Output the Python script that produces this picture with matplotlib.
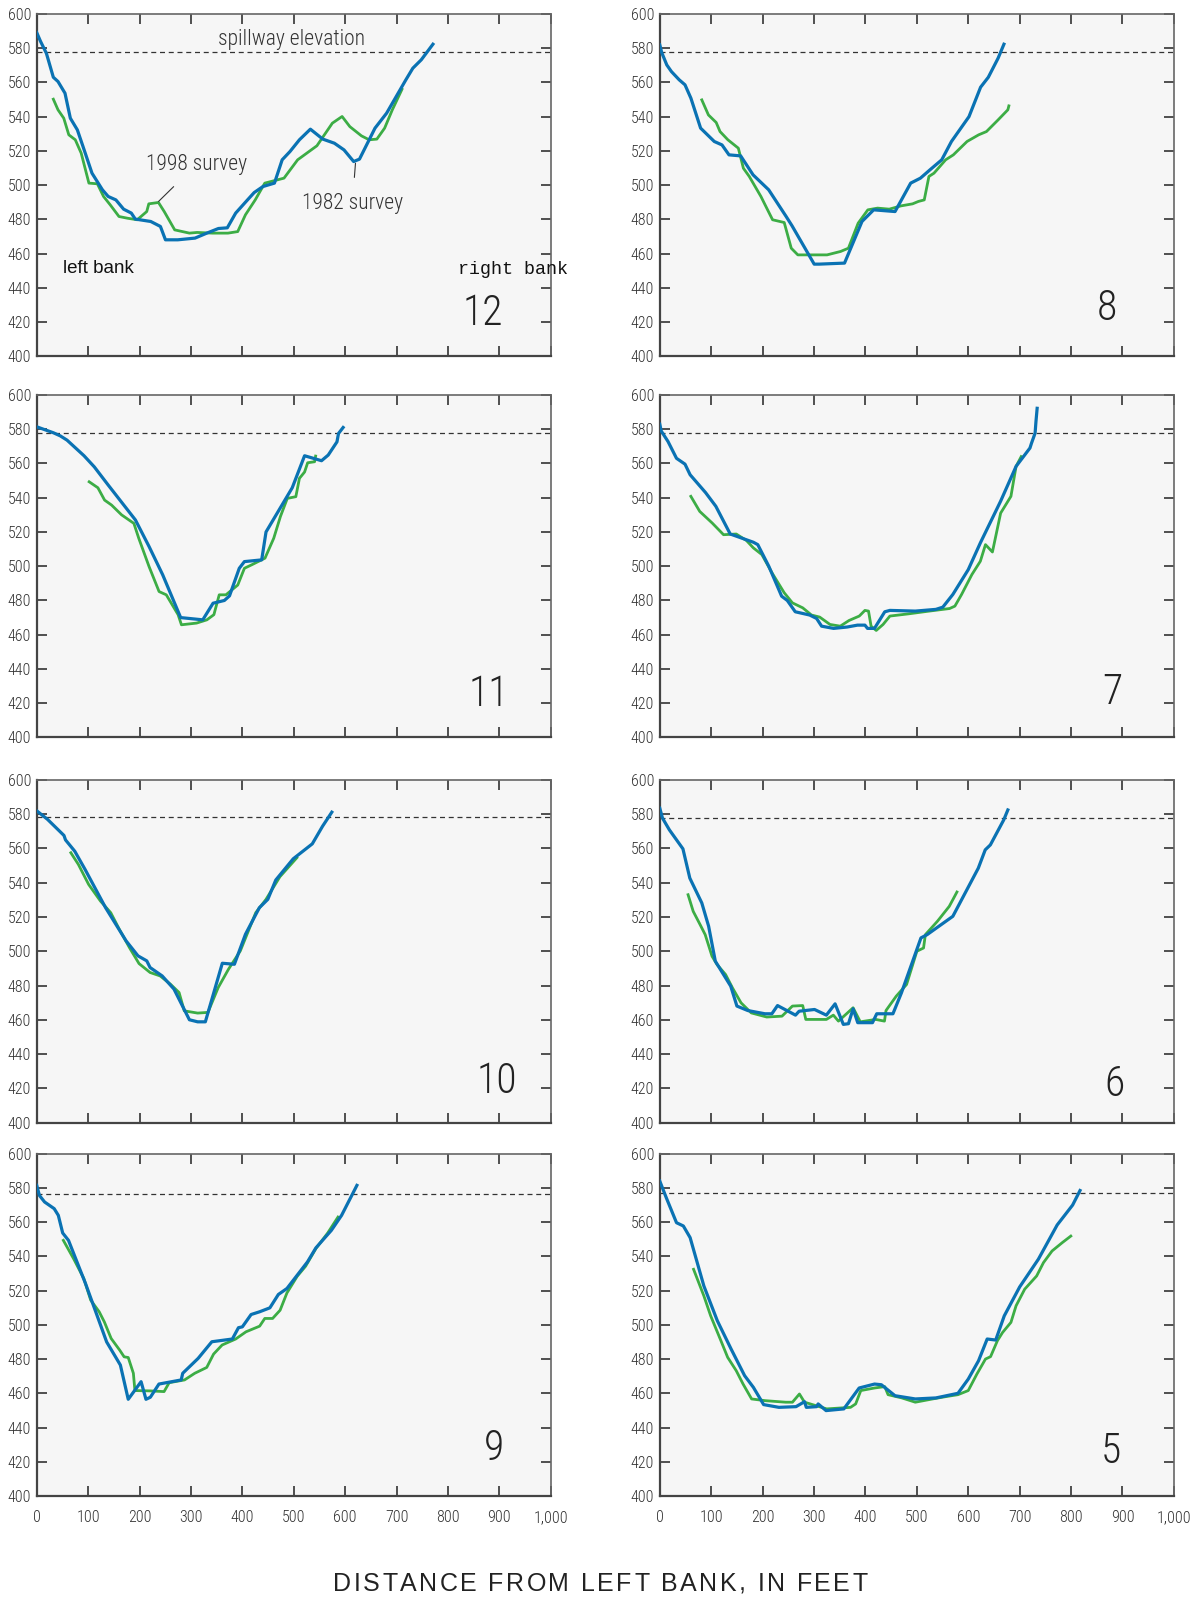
import numpy as np
import matplotlib
matplotlib.use("Agg")
import matplotlib.pyplot as plt
from matplotlib import font_manager
from matplotlib.ft2font import FT2Font

# Cross sections: distance from left bank (ft) and elevation (ft)
# 1982 survey = blue, 1998 survey = green

# section 12
x82_12 = [0, 7.5, 18.8, 32.3, 41.4, 55, 65.4, 79, 90, 107.5, 127.8, 139, 154, 169, 184, 191.7, 221.8,
          240.6, 250.4, 274.4, 308, 330.8, 353.4, 370.7, 387, 410, 423, 440, 462.4, 477.4, 492.5, 511,
          532.3, 556.4, 579, 597.7, 616.5, 627.8, 658, 680.5, 703, 718, 731.6, 748, 770.7]
y82_12 = [589.1, 583.9, 577, 563, 560.5, 553.7, 539.1, 532.3, 522.6, 507, 497.3, 493.4, 491.4, 486, 483.7,
          480.2, 478.8, 475.9, 468.1, 468.1, 469.1, 472, 474.7, 475.1, 483.7, 491.4, 495.7, 499.2, 501.2,
          514.8, 519.6, 526.5, 532.7, 526.9, 524.5, 520.6, 513.8, 515.2, 533.3, 542, 553.7, 561.5, 568.3,
          573.2, 582.3]
x98_12 = [32.3, 41.4, 52.6, 62.4, 75, 86.5, 101.5, 118, 130, 143, 160, 176.7, 195.5, 214, 218, 236.8, 248,
          268.4, 297, 312, 342, 372, 391, 406, 425, 443.6, 481, 507.5, 545, 575, 594, 609, 631.6, 646.6,
          661.6, 676.7, 691.7, 710.5]
y98_12 = [550.2, 544, 539.1, 529.4, 526.5, 518.7, 501.2, 500.8, 493.4, 488.5, 481.7, 480.7, 479.8, 484.6,
          489.1, 489.9, 484.6, 473.9, 472, 472.4, 472, 472, 472.9, 482.7, 491.4, 501.2, 504.1, 514.8, 523,
          536.2, 540.1, 534.2, 528.8, 526.5, 526.9, 533.3, 544, 556]

# section 8
x82_8 = [0, 3.8, 13.6, 22.7, 37.8, 49, 60.5, 79.4, 106, 121, 134.6, 157.3, 181.5, 211.8, 245.8, 257.2,
         300.3, 310, 359.3, 393.3, 416, 457.6, 488, 507, 525.7, 548.4, 567.3, 601.4, 624, 639, 658, 669.4]
y82_8 = [581.9, 577.4, 570.2, 566.3, 561.5, 558.6, 550.8, 533.3, 525.5, 523.5, 517.7, 517.1, 506, 497.3,
         481.7, 476.3, 453.9, 453.9, 454.5, 478.8, 485.6, 484.6, 501.2, 504.1, 509, 514.8, 525.5, 540,
         557.2, 563, 574.1, 582.3]
x98_8 = [81.7, 94.6, 109.7, 117.2, 132.4, 152.8, 162.6, 174, 196.7, 208, 219.4, 242, 255.7, 268.5, 295,
         325.3, 351.7, 366.9, 385.8, 404.7, 423.6, 446.3, 469, 491.7, 503, 514.4, 523.5, 533.3, 556, 571,
         597.6, 620.3, 635.4, 658, 677, 679]
y98_8 = [549.8, 541, 536.6, 531.3, 526.5, 521.6, 509.9, 505.1, 493.4, 486.6, 479.8, 478.2, 463.2, 459.3,
         459.3, 459.3, 461.3, 463.2, 477.8, 485.6, 486.6, 486, 487.9, 489.1, 490.5, 491.4, 505.1, 507,
         514.8, 517.7, 525.5, 529.4, 531.3, 538.1, 544, 546.3]

# section 11
x82_11 = [0, 32.5, 45.8, 59, 92, 112, 139, 192, 218.5, 245, 280, 323, 343, 365, 375, 394, 404, 437.6, 446,
          497, 521, 554, 567, 584, 587, 596]
y82_11 = [581.4, 577.9, 576.1, 573.6, 564.5, 558, 547.4, 527, 511.5, 495, 470, 468.7, 478.4, 480, 482.7,
          498.8, 502.7, 503.7, 520, 545.8, 564.5, 561.6, 564.9, 572.6, 577.5, 581]
x98_11 = [102, 119, 132, 145.6, 165, 189, 198.5, 218.5, 238, 252, 275, 281.5, 311, 331, 344.6, 355, 368,
          391, 404, 418, 444, 461, 474, 487.4, 504, 511, 521, 527, 540.5, 542.5]
y98_11 = [549.3, 545.8, 538.6, 535.7, 530, 525, 516.3, 499.8, 485.2, 483.3, 471.7, 465.8, 466.8, 468.7,
          471.7, 483.3, 483.3, 489, 498.8, 500.8, 504.7, 516.3, 529, 539.6, 540.6, 551.3, 555, 560.4, 561,
          564.3]

# section 7
x82_7 = [0, 2.7, 16, 32.5, 49, 59, 89, 109, 137, 182, 190.6, 212, 237, 248, 263.5, 291.5, 305, 314.7, 338,
         364.5, 384.5, 399, 404, 417.6, 437.6, 447.6, 497, 537, 550.5, 570, 600, 623.5, 663, 693, 720, 723,
         730, 731.7, 734]
y82_7 = [582.9, 579, 572.8, 563, 559.6, 553.4, 543, 535, 518.8, 514, 512.6, 500, 482.5, 480, 473.4, 471.5,
         469.5, 465, 463.7, 464.5, 465.6, 465.6, 463.7, 463.7, 473.4, 474.2, 473.8, 474.8, 476.1, 483.5,
         498, 513.6, 538, 558.3, 569, 571.8, 577.7, 584.5, 592.2]
x98_7 = [60.4, 77.7, 102, 124, 148.7, 168.6, 182, 198.5, 218.5, 242, 258, 278, 295, 311, 331, 351, 368,
         388, 399, 406, 411, 421, 434.3, 447.6, 484, 524, 563.7, 574, 587, 607, 623.5, 633.5, 647, 663, 683,
         693, 703]
y98_7 = [540.8, 532, 525.2, 518.4, 518.8, 515, 510.7, 506.8, 496, 484.5, 478.6, 475.7, 471.5, 470.3, 466,
         465, 468.3, 470.9, 474.2, 473.8, 465, 462.5, 466, 470.9, 472.2, 473.8, 475.3, 476.7, 483.5, 495.1,
         502.9, 512.6, 508.3, 531, 540.8, 558.3, 564]

# section 10
x82_10 = [0, 21, 53, 56, 74, 94, 134, 174, 197, 214, 220.5, 244, 267, 297, 313, 328, 361, 384.5, 406, 433,
          449.5, 465, 499, 536, 556, 574]
y82_10 = [582, 577, 567.6, 565, 558.4, 547.8, 525.4, 506, 497.3, 494.4, 490.5, 485.6, 477.9, 460, 458.8,
          458.8, 493, 492.4, 509.9, 525.4, 530.3, 541.6, 554, 562.7, 573, 581.2]
x98_10 = [66.4, 81, 101, 124, 144, 160.7, 180.6, 199, 220.5, 240, 260, 276.9, 287, 313, 333, 353, 373, 396,
          426, 446, 473, 506]
y98_10 = [557.5, 550.7, 539, 529.3, 522.5, 512.8, 502, 492.8, 487.6, 485.6, 480.8, 475.9, 465.2, 463.9,
          464.3, 478.8, 489.5, 500.2, 522.5, 530.3, 543.5, 554.6]

# section 6
x82_6 = [0, 5.3, 18.6, 45, 58.4, 81.7, 95, 108, 138, 150, 171, 204.5, 218, 229, 264, 271, 301, 324, 341,
         357, 367, 376, 385, 413.7, 422, 453.5, 470, 508, 520, 570, 619.5, 633, 643, 669, 677]
y82_6 = [583.5, 577.7, 570.9, 559.8, 542.7, 528.2, 514.6, 494.2, 479.6, 468, 465.4, 463.5, 463.5, 468.3,
         462.7, 465, 466, 462.7, 469.3, 457.3, 457.7, 466.4, 458.3, 458.3, 463.5, 463.5, 475.7, 507.8,
         509.7, 520.4, 548.5, 559.2, 562.1, 576.7, 582.5]
x98_6 = [55, 65, 78.5, 88.3, 101.6, 111.5, 128, 141.4, 158, 178, 208, 237.7, 258, 278, 284, 304, 324,
         337.6, 347.5, 376, 390, 420, 437, 440, 460, 480, 490, 500, 513, 516.6, 540, 563, 570, 578]
y98_6 = [533, 523.3, 515.5, 509.7, 497.1, 492.2, 486.4, 478.6, 469.9, 464, 461.6, 462.1, 468, 468.3,
         460.2, 460.2, 460.2, 462.7, 459.2, 467, 458.8, 460.2, 459.2, 465.4, 473.8, 480.6, 490.3, 500,
         501.9, 509.7, 517.5, 526.2, 530.1, 534.6]

# section 9
x82_9 = [0, 5.3, 15.3, 34, 42, 50.5, 61.8, 95, 136, 162.7, 178, 203, 212.5, 221, 237.7, 281, 284, 314,
         340.6, 380.5, 392.4, 400, 417, 433.6, 453.5, 470, 486.7, 526.6, 543, 573, 593, 622.8]
y82_9 = [581.4, 575.5, 571.7, 567.8, 563.9, 553.6, 549.3, 524, 490, 476.5, 456.5, 466.8, 456.5, 457.7,
         465.4, 467.8, 471.7, 480.4, 490.1, 491.7, 498.3, 498.8, 506, 507.6, 509.9, 517.7, 521.2, 536.7,
         544.9, 555.1, 563.9, 581.4]
x98_9 = [51.8, 71.7, 91.6, 105, 121.5, 131.5, 144.8, 161.4, 170, 178, 188, 191, 221, 247.7, 257.6, 287.5,
         307.4, 330.7, 344, 360.6, 387, 407, 433.6, 443.6, 458.8, 473.4, 486.7, 506.6, 523, 543, 566, 586]
y98_9 = [549.3, 538.6, 527, 514.4, 507.6, 501.7, 492, 485.2, 481.3, 480.9, 471.7, 461.6, 461.4, 461,
         466.2, 467.8, 471.7, 475.1, 482.9, 488.2, 491.7, 495.9, 499.2, 503.7, 503.7, 508.5, 518.6, 528.3,
         534.2, 544.5, 553.6, 562.9]

# section 5
x82_5 = [0, 12.6, 32.5, 45.8, 59, 85.7, 112, 138.8, 165, 182, 202, 231.7, 265, 281.5, 285, 305, 308, 323.4,
         358, 387.8, 417.7, 431, 457.5, 497, 537, 580, 600, 620, 636.8, 653.4, 670, 700, 736.4, 773, 803,
         817.4]
y82_5 = [583.9, 574.2, 559.6, 557.7, 550.9, 522.7, 502.3, 485.8, 470.3, 463.5, 453.4, 451.8, 452.2, 455.1,
         451.8, 452.2, 453.8, 449.9, 450.9, 463.1, 465.4, 465, 458.6, 456.7, 457.3, 460, 468.3, 479, 491.7,
         491.1, 505.2, 522.1, 538.3, 558.3, 569.9, 578.4]
x98_5 = [65.7, 85.7, 99, 118.9, 132, 148.7, 162, 178.6, 205, 245, 258, 271.6, 281.5, 324.7, 371, 381, 391,
         417.7, 437.6, 444, 470.8, 497, 530.5, 557, 580, 600, 616.9, 633.5, 643.4, 656.7, 666.7, 683, 693,
         709.8, 733, 746.3, 763, 783, 799.5]
y98_5 = [532.4, 516.9, 505.2, 490.7, 481, 473.2, 465.4, 456.7, 455.7, 454.8, 454.8, 459.6, 454.8, 450.9,
         451.8, 453.8, 461.6, 463.1, 463.9, 459.2, 457.3, 454.8, 456.7, 458.1, 459.2, 461.6, 471.3, 480,
         481.4, 490.7, 495.5, 501.4, 511.1, 520.8, 528.5, 536.3, 543.1, 548, 551.8]

sections = ["12", "8", "11", "7", "10", "6", "9", "5"]
spillway = [578, 577.6, 578, 578, 578.2, 577.7, 576.5, 576.7]
surveys_1982 = [(x82_12, y82_12), (x82_8, y82_8), (x82_11, y82_11), (x82_7, y82_7),
                (x82_10, y82_10), (x82_6, y82_6), (x82_9, y82_9), (x82_5, y82_5)]
surveys_1998 = [(x98_12, y98_12), (x98_8, y98_8), (x98_11, y98_11), (x98_7, y98_7),
                (x98_10, y98_10), (x98_6, y98_6), (x98_9, y98_9), (x98_5, y98_5)]

x_ticks = np.arange(0, 1001, 100)
x_labels = ["0", "100", "200", "300", "400", "500", "600", "700", "800", "900", "1,000"]
y_ticks = np.arange(400, 601, 20)

# where the section number sits in each panel (data coords)
num_x = [868, 870, 879, 880, 895, 884, 889, 878]
num_y = [425, 428, 425, 426, 424, 422, 428, 426]

# fonts
installed = {f.name for f in font_manager.fontManager.ttflist}


def pick(*names):
    for n in names:
        if n in installed:
            return n
    return "DejaVu Sans"


narrow = pick("Roboto Condensed", "Liberation Sans Narrow", "DejaVu Sans")
sans = pick("Liberation Sans", "Arial", "DejaVu Sans")
mono = pick("Liberation Mono", "Courier New", "DejaVu Sans Mono")

BLUE = "#0a72b3"
GREEN = "#3cad45"

fig = plt.figure(figsize=(12.04, 15.97), dpi=100)

lefts = [0.0305, 0.548]
bottoms = [0.7768, 0.5382, 0.2971, 0.0632]
w, h = 0.427, 0.2145

for i, sec in enumerate(sections):
    row, col = divmod(i, 2)
    ax = fig.add_axes([lefts[col], bottoms[row], w, h])
    ax.set_facecolor("#f6f6f6")

    xg, yg = surveys_1998[i]
    xb, yb = surveys_1982[i]
    ax.plot(xg, yg, color=GREEN, lw=2.0, solid_joinstyle="round", zorder=3)
    ax.plot(xb, yb, color=BLUE, lw=2.3, solid_joinstyle="round", zorder=4)
    ax.axhline(spillway[i], color="#333333", lw=0.9, ls=(0, (4, 3)), zorder=2)

    ax.set_xlim(0, 1000)
    ax.set_ylim(400, 600)
    ax.set_xticks(x_ticks)
    ax.set_yticks(y_ticks)
    ax.tick_params(direction="in", top=True, right=True, length=7, width=1.1,
                   colors="#222222", labelsize=11.5, pad=4)
    for lab in ax.get_yticklabels():
        lab.set_fontfamily(narrow)
        lab.set_fontweight("light")
        lab.set_color("#333333")
    if row == 3:
        ax.set_xticklabels(x_labels, fontfamily=narrow, fontsize=11.5,
                           fontweight="light", color="#333333")
        ax.tick_params(axis="x", pad=10)
    else:
        ax.set_xticklabels([])

    for side in ["left", "bottom"]:
        ax.spines[side].set_color("#444444")
        ax.spines[side].set_linewidth(1.6)
    for side in ["top", "right"]:
        ax.spines[side].set_color("#666666")
        ax.spines[side].set_linewidth(1.2)

    ax.text(num_x[i], num_y[i], sec, ha="center", va="center", fontsize=30,
            fontfamily=narrow, fontweight="light", color="#222222")

    if sec == "12":
        ax.text(495, 585, "spillway elevation", ha="center", va="center",
                fontsize=15.5, fontfamily=narrow, fontweight="light", color="#333333")
        ax.annotate("1998 survey", xy=(237, 490.5), xytext=(310, 512),
                    ha="center", va="center", fontsize=15.5, fontfamily=narrow,
                    fontweight="light", color="#333333",
                    arrowprops=dict(arrowstyle="-", color="#333333", lw=0.8,
                                    shrinkA=9, shrinkB=0))
        ax.annotate("1982 survey", xy=(620, 512.8), xytext=(614, 489.5),
                    ha="center", va="center", fontsize=15.5, fontfamily=narrow,
                    fontweight="light", color="#333333",
                    arrowprops=dict(arrowstyle="-", color="#333333", lw=0.8,
                                    shrinkA=9, shrinkB=0))
        ax.text(52, 451.5, "left bank", ha="left", va="center", fontsize=13.5,
                fontfamily=sans, color="#111111")
        ax.text(820, 450.5, "right bank", ha="left", va="center", fontsize=13.2,
                fontfamily=mono, color="#111111", clip_on=False)

# axis title with wide letter spacing, placed one glyph at a time
title = "DISTANCE FROM LEFT BANK, IN FEET"
title_size = 18
tracking = 2.4  # extra pixels between glyphs
ft = FT2Font(font_manager.findfont(font_manager.FontProperties(family=sans)))
ft.set_size(title_size, 100)
adv = [ft.load_char(ord(c)).linearHoriAdvance / 65536 for c in title]
total = sum(adv) + tracking * (len(title) - 1)
fig_w_px = fig.get_figwidth() * 100
x_px = 0.4988 * fig_w_px - total / 2
for c, a in zip(title, adv):
    fig.text(x_px / fig_w_px, 0.0039, c, ha="left", va="baseline",
             fontsize=title_size, fontfamily=sans, color="#222222")
    x_px += a + tracking

fig.savefig("out.png", dpi=100)
